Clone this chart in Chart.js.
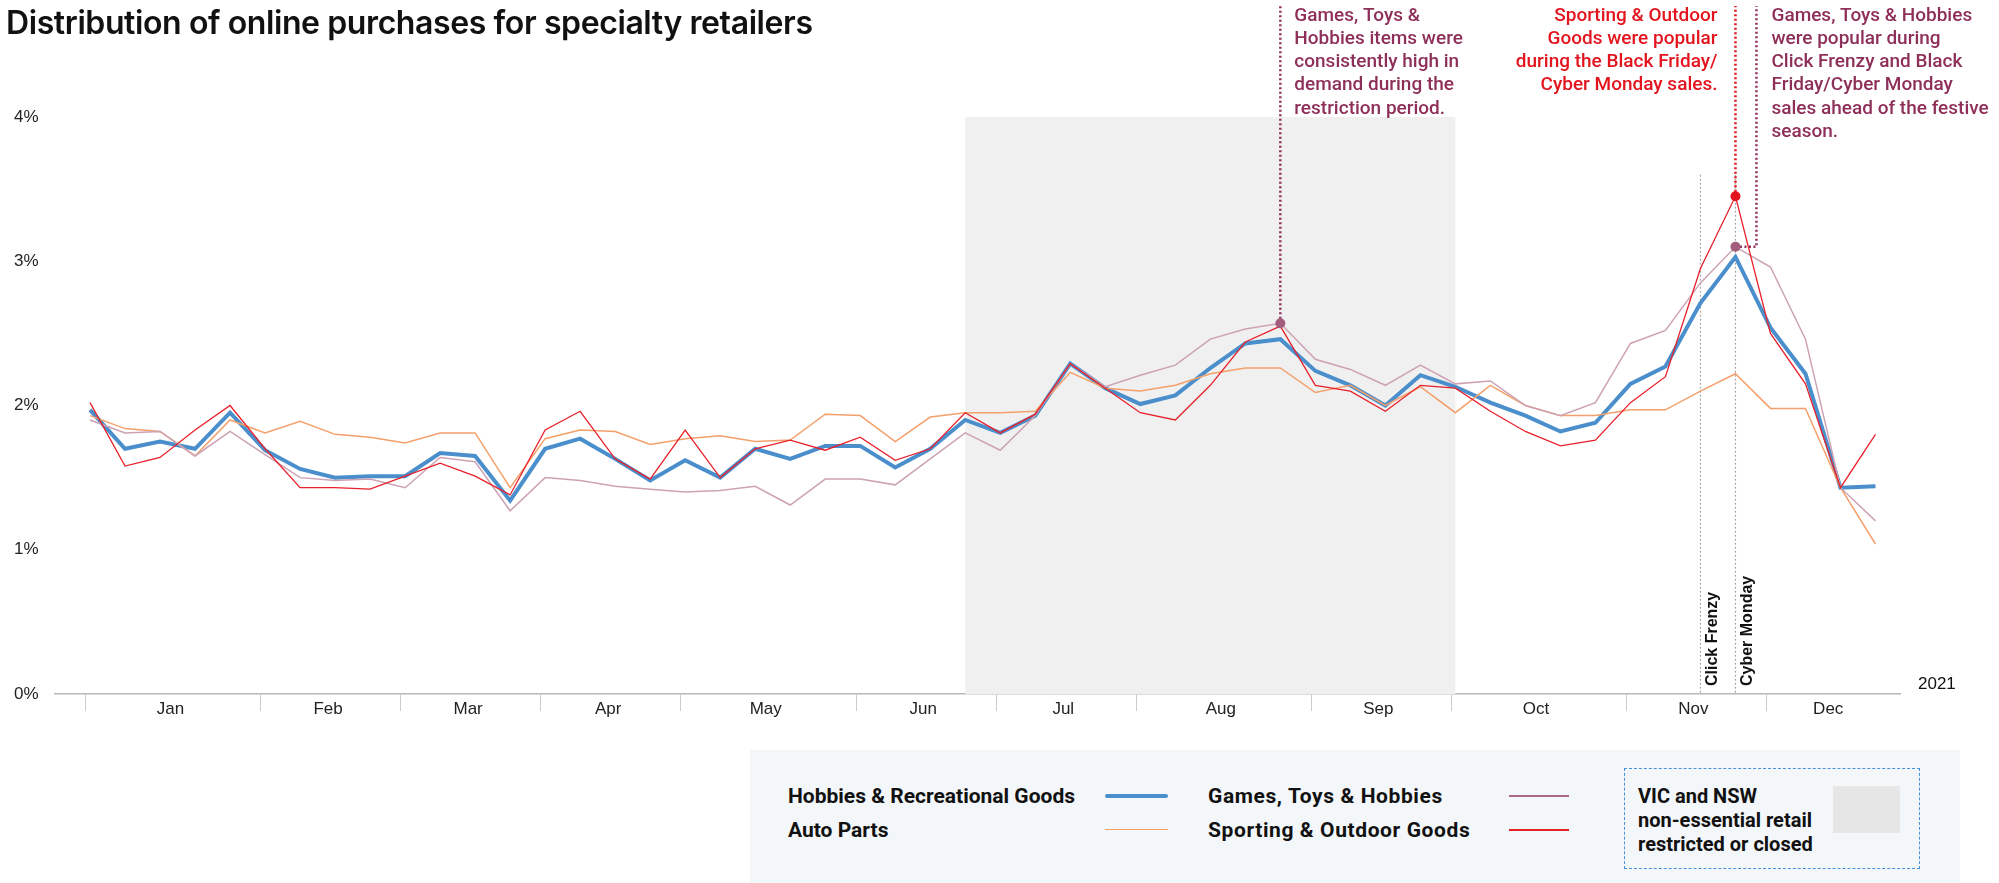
<!DOCTYPE html>
<html lang="en">
<head>
    <meta charset="UTF-8">
    <title>Distribution of online purchases for specialty retailers</title>
    <script src="https://cdn.jsdelivr.net/npm/chart.js"></script>
    <style>
        body {
            margin: 0;
            width: 1999px;
            height: 883px;
            position: relative;
            overflow: hidden;
            background: #fff;
            font-family: Roboto, sans-serif;
            color: #111;
        }
        .title {
            position: absolute;
            left: 6px;
            top: 3px;
            font-family: Inter, Roboto, sans-serif;
            font-size: 32px;
            font-weight: 600;
            letter-spacing: -0.4px;
            z-index: 2;
        }
        .chart-container {
            position: absolute;
            left: 0;
            top: 0;
            width: 1999px;
            height: 883px;
        }
        .legend {
            position: absolute;
            left: 750px;
            top: 750px;
            width: 1210px;
            height: 133px;
            background: #f4f7fa;
            font-size: 21px;
            font-weight: 700;
            z-index: 2;
        }
        .legend .item {
            position: absolute;
            line-height: 24px;
            transform: translateY(-50%);
            white-space: nowrap;
        }
        .legend .wide {
            letter-spacing: 0.6px;
        }
        .legend .swatch {
            position: absolute;
            height: 0;
        }
        .restrict-box {
            position: absolute;
            left: 874px;
            top: 18px;
            width: 296px;
            height: 101px;
            border: 1px dashed #4a90d9;
            box-sizing: border-box;
        }
        .restrict-box .text {
            position: absolute;
            left: 13px;
            top: 15px;
            line-height: 24px;
            font-size: 20px;
        }
        .restrict-box .square {
            position: absolute;
            left: 208px;
            top: 17px;
            width: 67px;
            height: 47px;
            background: #e6e6e6;
        }
    </style>
</head>
<body>
    <div class="title">Distribution of online purchases for specialty retailers</div>

    <div class="chart-container">
        <canvas id="purchasesChart"></canvas>
    </div>

    <div class="legend">
        <div class="item" style="left:38px; top:46px;">Hobbies &amp; Recreational Goods</div>
        <div class="swatch" style="left:355px; top:44px; width:63px; border-top:4px solid #4a8fcc; border-radius:2px;"></div>
        <div class="item" style="left:38px; top:80px;">Auto Parts</div>
        <div class="swatch" style="left:355px; top:79px; width:63px; border-top:1.5px solid #f4a06b;"></div>

        <div class="item wide" style="left:458px; top:46px;">Games, Toys &amp; Hobbies</div>
        <div class="swatch" style="left:759px; top:45px; width:60px; border-top:2px solid #a86a85;"></div>
        <div class="item wide" style="left:458px; top:80px;">Sporting &amp; Outdoor Goods</div>
        <div class="swatch" style="left:759px; top:79px; width:60px; border-top:2px solid #e8202a;"></div>

        <div class="restrict-box">
            <div class="text">VIC and NSW<br>non-essential retail<br>restricted or closed</div>
            <div class="square"></div>
        </div>
    </div>

    <script>
        // weekly data, weeks ending Sunday, 3 Jan - 26 Dec 2021
        const monthNames = ['Jan', 'Feb', 'Mar', 'Apr', 'May', 'Jun', 'Jul', 'Aug', 'Sep', 'Oct', 'Nov', 'Dec'];
        const weeksPerMonth = [5, 4, 4, 4, 5, 4, 4, 5, 4, 5, 4, 4];
        const yearLabel = '2021';
        const yTicks = [0, 1, 2, 3, 4];

        const hobbiesRec = [1.97, 1.70, 1.75, 1.70, 1.95, 1.69, 1.56, 1.50, 1.51, 1.51,
            1.67, 1.65, 1.34, 1.70, 1.77, 1.63, 1.48, 1.62, 1.50, 1.70,
            1.63, 1.72, 1.72, 1.57, 1.70, 1.90, 1.81, 1.93, 2.29, 2.12,
            2.01, 2.07, 2.26, 2.43, 2.46, 2.24, 2.14, 2.00, 2.21, 2.13,
            2.02, 1.93, 1.82, 1.88, 2.15, 2.27, 2.71, 3.03, 2.54, 2.22,
            1.43, 1.44];
        const autoParts = [1.93, 1.84, 1.82, 1.65, 1.90, 1.81, 1.89, 1.80, 1.78, 1.74,
            1.81, 1.81, 1.43, 1.77, 1.83, 1.82, 1.73, 1.77, 1.79, 1.75,
            1.76, 1.94, 1.93, 1.75, 1.92, 1.95, 1.95, 1.96, 2.23, 2.12,
            2.10, 2.14, 2.22, 2.26, 2.26, 2.09, 2.14, 2.00, 2.13, 1.95,
            2.14, 2.00, 1.93, 1.93, 1.97, 1.97, 2.10, 2.22, 1.98, 1.98,
            1.43, 1.04];
        const gamesToys = [1.90, 1.81, 1.82, 1.65, 1.82, 1.66, 1.50, 1.48, 1.49, 1.43,
            1.64, 1.61, 1.27, 1.50, 1.48, 1.44, 1.42, 1.40, 1.41, 1.44,
            1.31, 1.49, 1.49, 1.45, 1.63, 1.81, 1.69, 1.93, 2.29, 2.13,
            2.21, 2.28, 2.46, 2.53, 2.57, 2.32, 2.25, 2.14, 2.28, 2.15,
            2.17, 2.00, 1.93, 2.02, 2.43, 2.52, 2.85, 3.10, 2.96, 2.46,
            1.43, 1.20];
        const sportingOutdoor = [2.02, 1.58, 1.64, 1.83, 2.00, 1.70, 1.43, 1.43, 1.42, 1.51,
            1.60, 1.51, 1.38, 1.83, 1.96, 1.63, 1.49, 1.83, 1.50, 1.70,
            1.76, 1.69, 1.78, 1.62, 1.70, 1.95, 1.81, 1.94, 2.29, 2.12,
            1.95, 1.90, 2.14, 2.44, 2.55, 2.14, 2.10, 1.96, 2.14, 2.12,
            1.96, 1.82, 1.72, 1.76, 2.02, 2.20, 2.95, 3.45, 2.50, 2.15,
            1.43, 1.80];

        // restriction period (week index) and sale events
        const restrictStart = 25;
        const restrictEnd = 39;
        const clickFrenzyWeek = 46;
        const cyberMondayWeek = 47;
        const gamesRestrictWeek = 34;

        const notes = {
            gamesRestrict: ['Games, Toys &', 'Hobbies items were', 'consistently high in', 'demand during the', 'restriction period.'],
            sportingBF: ['Sporting & Outdoor', 'Goods were popular', 'during the Black Friday/', 'Cyber Monday sales.'],
            gamesBF: ['Games, Toys & Hobbies', 'were popular during', 'Click Frenzy and Black', 'Friday/Cyber Monday', 'sales ahead of the festive', 'season.']
        };

        const mauveText = '#8e2f59';
        const redText = '#e3141e';

        const xMin = -1;
        const xMax = 51.7;

        // month boundaries (tick lines sit a touch before the first week) and label positions
        const boundaries = [];
        const monthTicks = [];
        const tickLabel = new Map();
        let acc = 0;
        weeksPerMonth.forEach((n, i) => {
            const b = acc - 0.12;
            boundaries.push(b);
            monthTicks.push({ value: b });
            const mid = (acc + Math.min(acc + n, xMax)) / 2 - 0.2;
            monthTicks.push({ value: mid });
            tickLabel.set(mid, monthNames[i]);
            acc += n;
        });
        monthTicks.sort((a, b) => a.value - b.value);
        const boundarySet = new Set(boundaries);

        const toPoints = arr => arr.map((v, i) => ({ x: i, y: v }));

        function drawNote(ctx, lines, x, yTop, align, color) {
            ctx.font = '500 19px Roboto';
            ctx.fillStyle = color;
            ctx.textAlign = align;
            ctx.textBaseline = 'middle';
            lines.forEach((t, k) => ctx.fillText(t, x, yTop + k * 23.2));
        }

        function dotted(ctx, pts, color, width, dash) {
            ctx.beginPath();
            ctx.strokeStyle = color;
            ctx.lineWidth = width;
            ctx.setLineDash(dash);
            ctx.moveTo(pts[0][0], pts[0][1]);
            for (let i = 1; i < pts.length; i++) ctx.lineTo(pts[i][0], pts[i][1]);
            ctx.stroke();
            ctx.setLineDash([]);
        }

        function dot(ctx, x, y, color) {
            ctx.beginPath();
            ctx.fillStyle = color;
            ctx.arc(x, y, 5, 0, Math.PI * 2);
            ctx.fill();
        }

        const overlays = {
            id: 'overlays',
            beforeDatasetsDraw(chart) {
                const { ctx, chartArea } = chart;
                const { x, y } = chart.scales;
                ctx.save();

                // shaded restriction period
                const x0 = x.getPixelForValue(restrictStart);
                const x1 = x.getPixelForValue(restrictEnd);
                ctx.fillStyle = '#f0f0f0';
                ctx.fillRect(x0, y.getPixelForValue(4), x1 - x0, y.getPixelForValue(0) - y.getPixelForValue(4));

                // sale event lines
                [[clickFrenzyWeek, 'Click Frenzy'], [cyberMondayWeek, 'Cyber Monday']].forEach(([wk, label]) => {
                    const px = x.getPixelForValue(wk);
                    dotted(ctx, [[px, y.getPixelForValue(3.6)], [px, y.getPixelForValue(0)]], '#a8a8a8', 1.2, [2, 2]);
                    ctx.save();
                    ctx.translate(px + 4, y.getPixelForValue(0) - 8);
                    ctx.rotate(-Math.PI / 2);
                    ctx.font = 'bold 16px "Liberation Sans", Arial, sans-serif';
                    ctx.fillStyle = '#111';
                    ctx.textAlign = 'left';
                    ctx.textBaseline = 'top';
                    ctx.fillText(label, 0, 0);
                    ctx.restore();
                });

                // year label at the end of the axis
                ctx.font = '17px "Liberation Sans", Arial, sans-serif';
                ctx.fillStyle = '#111';
                ctx.textAlign = 'left';
                ctx.textBaseline = 'middle';
                ctx.fillText(yearLabel, chartArea.right + 18, y.getPixelForValue(0) - 10);
                ctx.restore();
            },
            afterDatasetsDraw(chart) {
                const { ctx } = chart;
                const { x, y } = chart.scales;
                const topY = 6;
                ctx.save();

                // Games, Toys & Hobbies during restriction period
                const gx = x.getPixelForValue(gamesRestrictWeek);
                const gy = y.getPixelForValue(gamesToys[gamesRestrictWeek]);
                dotted(ctx, [[gx, gy], [gx, topY]], mauveText, 2.5, [2, 2.5]);
                dot(ctx, gx, gy, '#a25d7d');
                drawNote(ctx, notes.gamesRestrict, gx + 14, 16, 'left', mauveText);

                // Sporting & Outdoor peak
                const sx = x.getPixelForValue(cyberMondayWeek);
                const sy = y.getPixelForValue(sportingOutdoor[cyberMondayWeek]);
                dotted(ctx, [[sx, sy], [sx, topY]], redText, 2.5, [2, 2.5]);
                dot(ctx, sx, sy, redText);
                drawNote(ctx, notes.sportingBF, sx - 18, 16, 'right', redText);

                // Games, Toys & Hobbies Black Friday
                const my = y.getPixelForValue(gamesToys[cyberMondayWeek]);
                const bend = sx + 21;
                dotted(ctx, [[sx, my], [bend, my], [bend, topY]], mauveText, 2.5, [2, 2.5]);
                dot(ctx, sx, my, '#a25d7d');
                drawNote(ctx, notes.gamesBF, bend + 15, 16, 'left', mauveText);

                ctx.restore();
            }
        };

        const ctx = document.getElementById('purchasesChart').getContext('2d');
        new Chart(ctx, {
            type: 'line',
            data: {
                datasets: [
                    {
                        label: 'Sporting & Outdoor Goods',
                        data: toPoints(sportingOutdoor),
                        borderColor: '#e8202a',
                        borderWidth: 1.3,
                        order: 0
                    },
                    {
                        label: 'Games, Toys & Hobbies',
                        data: toPoints(gamesToys),
                        borderColor: '#cda2b4',
                        borderWidth: 1.5,
                        order: 1
                    },
                    {
                        label: 'Auto Parts',
                        data: toPoints(autoParts),
                        borderColor: '#f4a06b',
                        borderWidth: 1.5,
                        order: 2
                    },
                    {
                        label: 'Hobbies & Recreational Goods',
                        data: toPoints(hobbiesRec),
                        borderColor: '#4a8fcc',
                        borderWidth: 4,
                        order: 3
                    }
                ]
            },
            options: {
                responsive: true,
                maintainAspectRatio: false,
                animation: false,
                elements: {
                    point: { radius: 0, hoverRadius: 0 },
                    line: { tension: 0, fill: false }
                },
                layout: {
                    padding: { top: 117, left: 14, right: 99, bottom: 149 }
                },
                plugins: {
                    legend: { display: false },
                    tooltip: { enabled: false }
                },
                scales: {
                    x: {
                        type: 'linear',
                        min: xMin,
                        max: xMax,
                        afterBuildTicks: scale => { scale.ticks = monthTicks.map(t => ({ value: t.value })); },
                        afterFit: scale => { scale.height = 40; },
                        border: { display: true, color: '#b8b8b8', width: 1.5 },
                        grid: {
                            drawOnChartArea: false,
                            drawTicks: true,
                            tickLength: 17,
                            lineWidth: 1,
                            color: c => (c.tick && boundarySet.has(c.tick.value)) ? '#cccccc' : 'rgba(0,0,0,0)'
                        },
                        ticks: {
                            autoSkip: false,
                            maxRotation: 0,
                            padding: -12,
                            color: '#222',
                            font: { family: '"Liberation Sans", Arial, sans-serif', size: 17 },
                            callback: value => tickLabel.get(value) || ''
                        }
                    },
                    y: {
                        min: 0,
                        max: 4,
                        afterBuildTicks: scale => { scale.ticks = yTicks.map(v => ({ value: v })); },
                        afterFit: scale => { scale.width = 41; },
                        border: { display: false },
                        grid: { display: false, drawTicks: false },
                        ticks: {
                            crossAlign: 'far',
                            padding: 0,
                            color: '#222',
                            font: { family: '"Liberation Sans", Arial, sans-serif', size: 17 },
                            callback: value => value + '%'
                        }
                    }
                }
            },
            plugins: [overlays]
        });
    </script>
</body>
</html>
